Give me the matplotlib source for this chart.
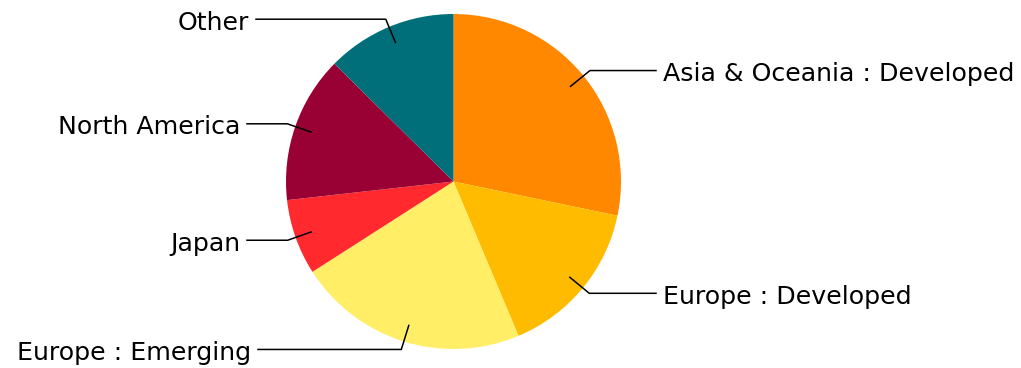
import numpy as np
import matplotlib.pyplot as plt

# valores del grafico (porcentaje aproximado)
regiones = ['Asia & Oceania : Developed', 'Europe : Developed', 'Europe : Emerging',
            'Japan', 'North America', 'Other']
valores = [28.3, 15.4, 22.3, 7.3, 14.2, 12.6]
colores = ['#FF8800', '#FFBB00', '#FFEE66', '#FF292E', '#990033', '#006F7A']

# x del final de la linea horizontal de cada etiqueta (pixeles)
x_etiqueta = [656, 656, 258, 247, 247, 256]

W, H = 1021, 368
cx, cy, R = 453.5, H - 181.5, 167.5

fig = plt.figure(figsize=(W / 100, H / 100), dpi=100)
ax = fig.add_axes([0, 0, 1, 1])

wedges, _ = ax.pie(valores, colors=colores, startangle=90, counterclock=False,
                   center=(cx, cy), radius=R, wedgeprops=dict(linewidth=0))

for w, nombre, xl in zip(wedges, regiones, x_etiqueta):
    ang = np.deg2rad((w.theta1 + w.theta2) / 2)
    x0, y0 = cx + 0.9 * R * np.cos(ang), cy + 0.9 * R * np.sin(ang)
    x1, y1 = cx + 1.05 * R * np.cos(ang), cy + 1.05 * R * np.sin(ang)
    ax.plot([x0, x1, xl], [y0, y1, y1], color='black', lw=1.1)
    if xl > cx:
        ax.text(xl + 7, y1 - 1, nombre, ha='left', va='center_baseline', fontsize=18.2)
    else:
        ax.text(xl - 7, y1 - 1, nombre, ha='right', va='center_baseline', fontsize=18.2)

ax.set_xlim(0, W)
ax.set_ylim(0, H)
ax.set_aspect('auto')
ax.axis('off')

fig.savefig('out.png', dpi=100)
